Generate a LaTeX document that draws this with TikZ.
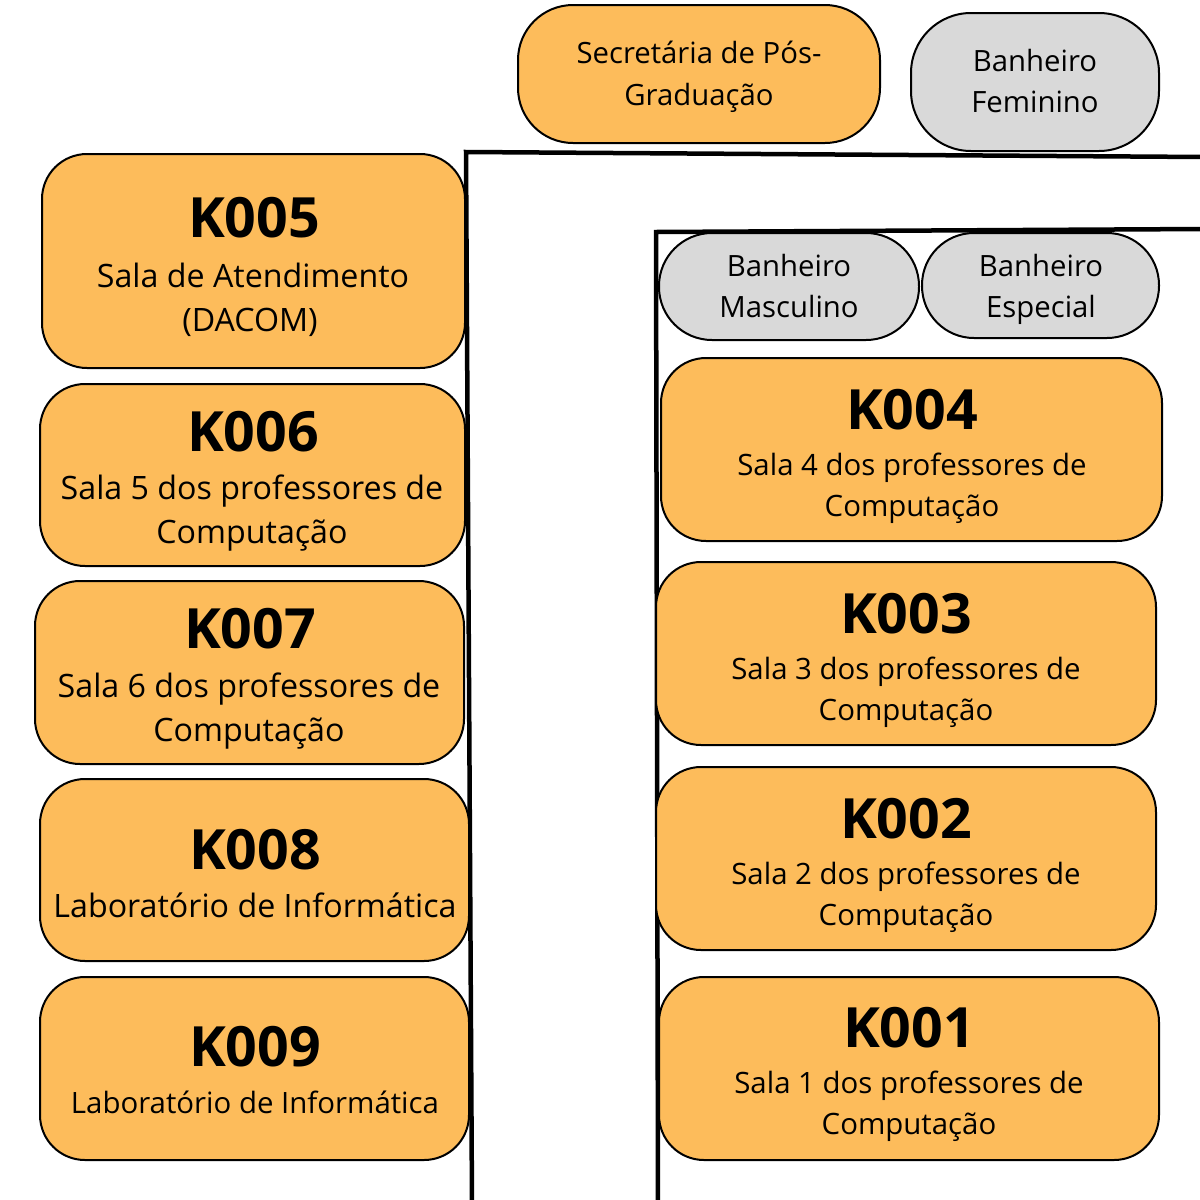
\documentclass[tikz,border=0pt]{standalone}
\usepackage{fontspec}
\setmainfont{Open Sans}
\definecolor{roomfill}{HTML}{FDBC5B}
\definecolor{bathfill}{HTML}{D9D9D9}
\tikzset{
  wall/.style={line width=4.5pt, line cap=rect},
  room/.style={draw=black, line width=2pt, fill=roomfill, rounded corners=45pt, inner sep=0pt},
  bath/.style={draw=black, line width=2pt, fill=bathfill, inner sep=0pt},
  code/.style={inner sep=0pt, anchor=center, font=\bfseries\fontsize{55.5}{60}\selectfont},
  biglbl/.style={inner sep=0pt, anchor=base, yshift=-11.5pt, font=\fontsize{32.2}{38}\selectfont},
  lbl/.style={inner sep=0pt, anchor=base, yshift=-10.5pt, font=\fontsize{29.4}{34}\selectfont},
  small/.style={inner sep=0pt, anchor=base, yshift=-10.5pt, font=\fontsize{29.3}{34}\selectfont},
}
\begin{document}
\begin{tikzpicture}[x=1pt,y=-1pt]
\useasboundingbox (0,0) rectangle (1200,1200);
\fill[white] (0,0) rectangle (1200,1200);

% corridor walls
\coordinate (wo1) at (466,152);
\coordinate (wo2) at (1205,157);
\coordinate (wo3) at (472,1205);
\coordinate (wi1) at (656,232);
\coordinate (wi2) at (1205,229);
\coordinate (wi3) at (658,1205);
\draw[wall] (wo2) -- (wo1) -- (wo3);
\draw[wall] (wi2) -- (wi1) -- (wi3);

% top row
\node[room, rounded corners=55pt, minimum width=362pt, minimum height=138pt] (sec) at (699,74) {};
\node[small] (sec1) at (699,53) {Secretária de Pós-};
\node[small] (sec2) at (699,95) {Graduação};
\node[bath, rounded corners=60pt, minimum width=248pt, minimum height=138pt] (bfem) at (1035,82) {};
\node[small] (bfem1) at (1035,61) {Banheiro};
\node[small] (bfem2) at (1035,102) {Feminino};

% bathrooms inside the corridor
\node[bath, rounded corners=53pt, minimum width=260pt, minimum height=107pt] (bmas) at (789,286.5) {};
\node[small] (bmas1) at (789,266) {Banheiro};
\node[small] (bmas2) at (789,307) {Masculino};
\node[bath, rounded corners=52pt, minimum width=237pt, minimum height=105pt] (besp) at (1040.5,285.5) {};
\node[small] (besp1) at (1041,266) {Banheiro};
\node[small] (besp2) at (1041,307) {Especial};

% left column of rooms
\node[room, minimum width=423pt, minimum height=214pt] (k005) at (253.5,261) {};
\node[code] (k005c) at (254,218) {K005};
\node[biglbl] (k005a) at (253,276) {Sala de Atendimento};
\node[biglbl] (k005b) at (250,320) {(DACOM)};

\node[room, minimum width=425pt, minimum height=182pt] (k006) at (252.5,475) {};
\node[code] (k006c) at (253,432) {K006};
\node[biglbl] (k006a) at (252,488) {Sala 5 dos professores de};
\node[biglbl] (k006b) at (252,532) {Computação};

\node[room, minimum width=429pt, minimum height=183pt] (k007) at (249.5,672.5) {};
\node[code] (k007c) at (250,629) {K007};
\node[biglbl] (k007a) at (249,686) {Sala 6 dos professores de};
\node[biglbl] (k007b) at (249,730) {Computação};

\node[room, minimum width=429pt, minimum height=182pt] (k008) at (254.5,870) {};
\node[code] (k008c) at (255,850) {K008};
\node[biglbl] (k008a) at (255,906) {Laboratório de Informática};

\node[room, minimum width=429pt, minimum height=183pt] (k009) at (254.5,1068.5) {};
\node[code] (k009c) at (255,1047) {K009};
\node[lbl] (k009a) at (255,1103) {Laboratório de Informática};

% right column of rooms
\node[room, minimum width=501pt, minimum height=183pt] (k004) at (911.5,449.5) {};
\node[code] (k004c) at (912,410) {K004};
\node[lbl] (k004a) at (912,465) {Sala 4 dos professores de};
\node[lbl] (k004b) at (912,506) {Computação};

\node[room, minimum width=500pt, minimum height=183pt] (k003) at (906,653.5) {};
\node[code] (k003c) at (906,614) {K003};
\node[lbl] (k003a) at (906,669) {Sala 3 dos professores de};
\node[lbl] (k003b) at (906,710) {Computação};

\node[room, minimum width=500pt, minimum height=183pt] (k002) at (906,858.5) {};
\node[code] (k002c) at (906,819) {K002};
\node[lbl] (k002a) at (906,874) {Sala 2 dos professores de};
\node[lbl] (k002b) at (906,915) {Computação};

\node[room, minimum width=500pt, minimum height=183pt] (k001) at (909,1068.5) {};
\node[code] (k001c) at (909,1028) {K001};
\node[lbl] (k001a) at (909,1083) {Sala 1 dos professores de};
\node[lbl] (k001b) at (909,1124) {Computação};
\end{tikzpicture}
\end{document}
